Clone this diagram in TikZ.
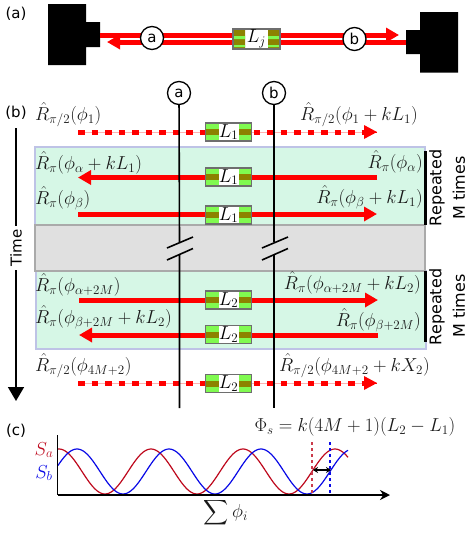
\documentclass[tikz,border=0pt]{standalone}
\usepackage{fontspec}
\setsansfont{DejaVu Sans}
\usetikzlibrary{arrows.meta,calc}
\newcommand\mscale[1]{\scalebox{1.088}{$#1$}}
\definecolor{beam}{RGB}{255,0,0}
\definecolor{panel}{RGB}{214,247,230}
\definecolor{panelb}{RGB}{190,195,230}
\definecolor{graybg}{RGB}{224,224,224}
\definecolor{grayb}{RGB}{170,170,170}
\definecolor{band}{RGB}{128,250,80}
\definecolor{oliv}{RGB}{140,130,0}
\definecolor{boxb}{RGB}{110,110,110}
\definecolor{sared}{RGB}{190,10,30}
\definecolor{sablue}{RGB}{10,10,230}
\tikzset{
  x=1pt,y=-1pt,
  lab/.style={font=\fontsize{15}{15}\sffamily,inner sep=0pt,text=black},
  rot/.style={font=\fontsize{16}{16}\sffamily,inner sep=0pt,rotate=90},
  mth/.style={font=\fontsize{17.28}{19}\selectfont,inner sep=0pt,text=black!90},
  circ/.style={circle,draw=black,line width=1.3pt,fill=white,minimum size=23pt,inner sep=0pt,font=\fontsize{15}{15}\sffamily},
  solidbeam/.style={draw=beam,line width=5pt},
  beamarrow/.style={solidbeam,-{Triangle[length=13pt,width=14pt]}},
  dashbeam/.style={draw=beam,line width=5pt,dash pattern=on 6.5pt off 7pt},
  thinbeam/.style={draw=beam!30,line width=0.6pt},
  wire/.style={draw=black,line width=1.6pt},
  panelbox/.style={fill=panel,draw=panelb,line width=1.2pt},
  graybox/.style={fill=graybg,draw=grayb,line width=1.2pt},
  black block/.style={fill=black,draw=none},
  bar/.style={draw=black,line width=2.6pt},
  lbox/.style={draw=boxb,line width=1.4pt,minimum width=46pt,minimum height=18pt,inner sep=0pt,fill=white,font=\fontsize{17.28}{19}\selectfont,
     path picture={\fill[band] (path picture bounding box.north west) rectangle ([xshift=13pt]path picture bounding box.south west);
       \fill[band] (path picture bounding box.north east) rectangle ([xshift=-13pt]path picture bounding box.south east);
       \fill[oliv] ([yshift=-3pt]path picture bounding box.west) rectangle ([xshift=13pt,yshift=3pt]path picture bounding box.west);
       \fill[oliv] ([yshift=-3pt]path picture bounding box.east) rectangle ([xshift=-13pt,yshift=3pt]path picture bounding box.east);}},
}
\begin{document}
\begin{tikzpicture}
\useasboundingbox (0,0) rectangle (467,539);
% panel (a)
\node[lab] (la) at (16,14) {(a)};
\fill[black block] (48,4) rectangle (86,65) (86,22) rectangle (100,47);
\fill[black block] (420,12) rectangle (458,72.6) (406,30) rectangle (420,54);
\coordinate (a1) at (100,35); \coordinate (a2) at (399,35);
\coordinate (a3) at (406,42); \coordinate (a4) at (107,42);
\draw[beamarrow] (a1) -- (a2);
\draw[beamarrow] (a3) -- (a4);
\node[circ] (ca) at (152,38) {a};
\node[circ] (cb) at (354.5,39) {b};
\fill[white] (233,29) rectangle (280,49);
\fill[oliv] (233,29) rectangle (245,49) (268,29) rectangle (280,49);
\fill[band] (233,36) rectangle (245,39) (233,45) rectangle (245,47) (268,36) rectangle (280,39) (268,45) rectangle (280,47);
\node[draw=boxb,line width=1.4pt,minimum width=47pt,minimum height=20pt,inner sep=0pt,font=\fontsize{17.28}{19}\selectfont] (lj) at (256.5,39) {\mscale{L_j}};
% panel (b) backgrounds
\node[lab] (lb) at (16,113) {(b)};
\path[panelbox] (35,147) rectangle (425,225);
\path[panelbox] (36,271) rectangle (426,349);
\path[graybox] (35,225) rectangle (425,271);
% wires
\node[circ] (wa) at (179,93) {a};
\node[circ] (wb) at (274,93) {b};
\coordinate (wa1) at (179.5,242); \coordinate (wa2) at (179.5,255); \coordinate (wa3) at (179.5,408);
\coordinate (wb1) at (274,242); \coordinate (wb2) at (274,255); \coordinate (wb3) at (274,408);
% beams
\coordinate (d1) at (78,132); \coordinate (d2) at (377,132);
\coordinate (e1) at (377,177.5); \coordinate (e2) at (78,177.5);
\coordinate (f1) at (78,214); \coordinate (f2) at (377,214);
\coordinate (g1) at (79,300); \coordinate (g2) at (378,300);
\coordinate (h1) at (378,335); \coordinate (h2) at (79,335);
\coordinate (i1) at (78,383); \coordinate (i2) at (377,383);
\draw[thinbeam] (d1) -- (d2);
\draw[dashbeam] (d1) -- ($(d2)+(-12,0)$);
\draw[draw=beam,line width=0pt,-{Triangle[length=13pt,width=14pt]}] ($(d2)+(-1,0)$) -- (d2);
\draw[beamarrow] (e1) -- (e2);
\draw[beamarrow] (f1) -- (f2);
\draw[beamarrow] (g1) -- (g2);
\draw[beamarrow] (h1) -- (h2);
\draw[thinbeam] (i1) -- (i2);
\draw[dashbeam] (i1) -- ($(i2)+(-12,0)$);
\draw[draw=beam,line width=0pt,-{Triangle[length=13pt,width=14pt]}] ($(i2)+(-1,0)$) -- (i2);
\draw[wire] (wa) -- (wa1) (wa2) -- (wa3);
\draw[wire] (wb) -- (wb1) (wb2) -- (wb3);
% break marks
\coordinate (s1) at (167,248); \coordinate (s2) at (193,237);
\coordinate (s3) at (167,260); \coordinate (s4) at (193,248.5);
\coordinate (s5) at (262,248); \coordinate (s6) at (288,237);
\coordinate (s7) at (262,260); \coordinate (s8) at (288,248.5);
\draw[wire] (s1) -- (s2) (s3) -- (s4) (s5) -- (s6) (s7) -- (s8);
% boxes
\node[lbox] (b1) at (228.5,132) {\mscale{L_1}};
\node[lbox] (b2) at (228.5,177) {\mscale{L_1}};
\node[lbox] (b3) at (228.5,215) {\mscale{L_1}};
\node[lbox] (b4) at (228.5,300) {\mscale{L_2}};
\node[lbox] (b5) at (228.5,334.5) {\mscale{L_2}};
\node[lbox] (b6) at (228.5,383.5) {\mscale{L_2}};
% bars
\coordinate (p1) at (425.5,151); \coordinate (p2) at (425.5,225);
\coordinate (p3) at (425.5,271); \coordinate (p4) at (425.5,342);
\draw[bar] (p1) -- (p2);
\draw[bar] (p3) -- (p4);
\node[rot] (r1) at (437,188) {Repeated};
\node[rot] (r2) at (459,188) {M times};
\node[rot] (r3) at (437,307) {Repeated};
\node[rot] (r4) at (459,306) {M times};
% time
\node[rot,font=\fontsize{15}{15}\sffamily] (time) at (16,248) {Time};
\coordinate (t0) at (16,128); \coordinate (t1) at (16,226); \coordinate (t2) at (16,270); \coordinate (t3) at (16,401);
\draw[wire] (t0) -- (t1);
\draw[wire,-{Triangle[length=14pt,width=16pt]}] (t2) -- (t3);
% equations
\node[mth,anchor=west] (m1) at (35,115) {\mscale{\hat R_{\pi/2}(\phi_1)}};
\node[mth,anchor=east] (m2) at (418,115) {\mscale{\hat R_{\pi/2}(\phi_1+kL_1)}};
\node[mth,anchor=west] (m3) at (35,163) {\mscale{\hat R_{\pi}(\phi_\alpha+kL_1)}};
\node[mth,anchor=east] (m4) at (423,162) {\mscale{\hat R_{\pi}(\phi_\alpha)}};
\node[mth,anchor=west] (m5) at (35,198) {\mscale{\hat R_{\pi}(\phi_\beta)}};
\node[mth,anchor=east] (m6) at (423,197) {\mscale{\hat R_{\pi}(\phi_\beta+kL_1)}};
\node[mth,anchor=west] (m7) at (35,285) {\mscale{\hat R_{\pi}(\phi_{\alpha+2M})}};
\node[mth,anchor=east] (m8) at (421,283) {\mscale{\hat R_{\pi}(\phi_{\alpha+2M}+kL_2)}};
\node[mth,anchor=west] (m9) at (35,317) {\mscale{\hat R_{\pi}(\phi_{\beta+2M}+kL_2)}};
\node[mth,anchor=east] (m10) at (421,320) {\mscale{\hat R_{\pi}(\phi_{\beta+2M})}};
\node[mth,anchor=west] (m11) at (35,366) {\mscale{\hat R_{\pi/2}(\phi_{4M+2})}};
\node[mth,anchor=east] (m12) at (430,366) {\mscale{\hat R_{\pi/2}(\phi_{4M+2}+kX_2)}};
% panel (c)
\node[lab] (lc) at (16,431) {(c)};
\draw[sared,line width=1.2pt,domain=58:348,samples=160,smooth] plot (\x,{471.5-22.5*cos((\x-59)/92*360)});
\draw[sablue,line width=1.2pt,domain=58:348,samples=160,smooth] plot (\x,{471.5-22.5*cos((\x-77)/92*360)});
\coordinate (v1) at (312,442); \coordinate (v2) at (312,495);
\coordinate (v3) at (330,442); \coordinate (v4) at (330,495);
\draw[sared!80!white,dashed,line width=1.2pt] (v1) -- (v2);
\draw[sablue,dashed,line width=1.2pt] (v3) -- (v4);
\coordinate (o) at (57.5,495); \coordinate (ay) at (57.5,435); \coordinate (ax) at (390,495);
\coordinate (da) at (313,470); \coordinate (db) at (331,470);
\draw[black,line width=1.5pt,{Stealth[length=5pt,width=6pt]}-{Stealth[length=5pt,width=6pt]}] (da) -- (db);
\draw[black,line width=1.7pt] (ay) -- (o);
\draw[black,line width=1.7pt,-{Stealth[length=10pt,width=10pt]}] (o) -- (ax);
\node[mth,text=sared] (sa) at (44,450) {\mscale{S_a}};
\node[mth,text=sablue] (sb) at (44,473) {\mscale{S_b}};
\node[mth] (phi) at (355,427) {\mscale{\Phi_s=k(4M+1)(L_2-L_1)}};
\node[mth] (sum) at (226,513) {\mscale{\vcenter{\hbox{\scalebox{1.6}{$\displaystyle\sum$}}}\,\phi_i}};
\end{tikzpicture}
\end{document}
